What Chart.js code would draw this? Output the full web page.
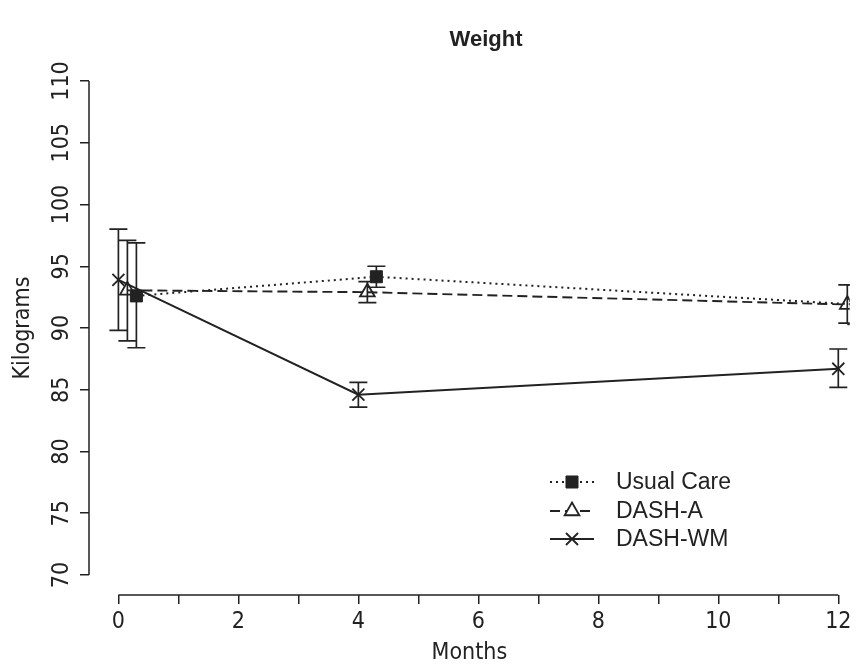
<!DOCTYPE html>
<html>
<head>
<meta charset="utf-8">
<title>Weight</title>
<script src="https://cdn.jsdelivr.net/npm/chart.js@4.4.1/dist/chart.umd.min.js"></script>
<style>
  html, body { margin: 0; padding: 0; background: #fff; }
</style>
</head>
<body>
<canvas id="chart_weight" width="860" height="669"></canvas>
<script>
// Data (kg, mean with upper/lower bar ends)
const seriesNames = ['Usual Care', 'DASH-A', 'DASH-WM'];

const ucMonths = [0.3, 4.3, 12.3];
const ucMean = [92.6, 94.15, 91.9];
const ucLow = [88.4, 93.3, 90.3];
const ucHigh = [96.9, 95.0, 93.5];

const dashAMonths = [0.15, 4.15, 12.15];
const dashAMean = [93.05, 92.9, 91.9];
const dashALow = [88.95, 92.05, 90.4];
const dashAHigh = [97.1, 93.75, 93.5];

const wmMonths = [0, 4, 12];
const wmMean = [93.9, 84.6, 86.7];
const wmLow = [89.8, 83.6, 85.2];
const wmHigh = [98.0, 85.6, 88.3];

const xTicks = [0, 1, 2, 3, 4, 5, 6, 7, 8, 9, 10, 11, 12];
const xTickLabels = ['0', '', '2', '', '4', '', '6', '', '8', '', '10', '', '12'];
const yTicks = [70, 75, 80, 85, 90, 95, 100, 105, 110];
const yTickLabels = ['70', '75', '80', '85', '90', '95', '100', '105', '110'];

const ink = '#222';
const narrow = '"Liberation Sans Narrow", "Arial Narrow", "DejaVu Sans Condensed", sans-serif';
const regular = '"Liberation Sans", Arial, sans-serif';

function points(months, values) {
    return months.map((m, i) => ({x: m, y: values[i]}));
}

const errorBars = [
    {months: ucMonths, low: ucLow, high: ucHigh},
    {months: dashAMonths, low: dashALow, high: dashAHigh},
    {months: wmMonths, low: wmLow, high: wmHigh},
];

// vertical bars with caps
const errorBarPlugin = {
    id: 'errorBars',
    afterDatasetsDraw(chart) {
        const {ctx, chartArea, scales: {x, y}} = chart;
        ctx.save();
        ctx.beginPath();
        ctx.rect(chartArea.left, chartArea.top, chartArea.width, chartArea.height);
        ctx.clip();
        ctx.strokeStyle = ink;
        ctx.lineWidth = 1.7;
        errorBars.forEach(bar => {
            bar.months.forEach((m, i) => {
                const px = x.getPixelForValue(m);
                const top = y.getPixelForValue(bar.high[i]);
                const bottom = y.getPixelForValue(bar.low[i]);
                ctx.beginPath();
                ctx.moveTo(px, top); ctx.lineTo(px, bottom);
                ctx.moveTo(px - 9, top); ctx.lineTo(px + 9, top);
                ctx.moveTo(px - 9, bottom); ctx.lineTo(px + 9, bottom);
                ctx.stroke();
            });
        });
        ctx.restore();
    }
};

// R style axis lines spanning only the tick range, title and legend
const decorPlugin = {
    id: 'decor',
    afterDraw(chart) {
        const {ctx, chartArea, scales: {x, y}} = chart;
        ctx.save();
        ctx.strokeStyle = ink;
        ctx.lineWidth = 1.5;
        ctx.beginPath();
        ctx.moveTo(x.getPixelForValue(xTicks[0]), chartArea.bottom);
        ctx.lineTo(x.getPixelForValue(xTicks[xTicks.length - 1]), chartArea.bottom);
        ctx.moveTo(chartArea.left, y.getPixelForValue(yTicks[0]));
        ctx.lineTo(chartArea.left, y.getPixelForValue(yTicks[yTicks.length - 1]));
        ctx.stroke();

        ctx.fillStyle = ink;
        ctx.font = 'bold 22px ' + regular;
        ctx.textAlign = 'center';
        ctx.textBaseline = 'middle';
        ctx.fillText('Weight', 486, 40);

        // legend
        const rows = [482, 511, 539];
        ctx.font = '23px ' + regular;
        ctx.textAlign = 'left';
        chart.data.datasets.forEach((ds, i) => {
            const ly = rows[i];
            ctx.strokeStyle = ink;
            ctx.lineWidth = ds.borderWidth;
            ctx.setLineDash(ds.borderDash || []);
            ctx.beginPath();
            ctx.moveTo(550, ly); ctx.lineTo(594, ly);
            ctx.stroke();
            ctx.setLineDash([]);
            ctx.fillStyle = ds.pointStyle === 'triangle' ? '#fff' : ink;
            ctx.lineWidth = ds.pointBorderWidth;
            Chart.helpers.drawPoint(ctx, {
                pointStyle: ds.pointStyle, radius: ds.pointRadius, rotation: 0,
                borderWidth: ds.pointBorderWidth
            }, 572, ly);
            ctx.fillStyle = ink;
            ctx.fillText(ds.label, 616, ly + 1);
        });
        ctx.restore();
    }
};

let chartWeight = new Chart(
    document.getElementById('chart_weight'),
    {
        type: 'scatter',
        data: {
            datasets: [
                {
                    label: seriesNames[0],
                    data: points(ucMonths, ucMean),
                    showLine: true,
                    borderColor: ink,
                    borderWidth: 2,
                    borderDash: [2, 4],
                    pointStyle: 'rect',
                    pointRadius: 8.5,
                    pointBorderWidth: 1,
                    pointBackgroundColor: ink,
                    pointBorderColor: ink,
                },
                {
                    label: seriesNames[1],
                    data: points(dashAMonths, dashAMean),
                    showLine: true,
                    borderColor: ink,
                    borderWidth: 1.9,
                    borderDash: [10, 5],
                    pointStyle: 'triangle',
                    pointRadius: 8.5,
                    pointBorderWidth: 1.8,
                    pointBackgroundColor: 'rgba(0,0,0,0)',
                    pointBorderColor: ink,
                },
                {
                    label: seriesNames[2],
                    data: points(wmMonths, wmMean),
                    showLine: true,
                    borderColor: ink,
                    borderWidth: 2,
                    pointStyle: 'crossRot',
                    pointRadius: 8.5,
                    pointBorderWidth: 1.8,
                    pointBorderColor: ink,
                },
            ]
        },
        options: {
            responsive: false,
            animation: false,
            layout: {padding: {top: 61, left: 0, right: 0, bottom: 0}},
            scales: {
                x: {
                    type: 'linear',
                    min: -0.49,
                    max: 12.19,
                    afterBuildTicks: s => { s.ticks = xTicks.map(v => ({value: v})); },
                    afterFit: s => { s.height = 74; s.paddingLeft = 0; s.paddingRight = 0; },
                    grid: {display: true, drawOnChartArea: false, drawTicks: true, tickLength: 9, color: ink, lineWidth: 1.5},
                    border: {display: false},
                    ticks: {
                        autoSkip: false,
                        maxRotation: 0,
                        padding: 4,
                        color: ink,
                        font: {family: narrow, size: 23},
                        callback: (v, i) => xTickLabels[i],
                    },
                    title: {
                        display: true,
                        text: 'Months',
                        color: ink,
                        font: {family: narrow, size: 23},
                        padding: {top: 0, bottom: 2},
                    },
                },
                y: {
                    type: 'linear',
                    min: 68.38,
                    max: 111.62,
                    afterBuildTicks: s => { s.ticks = yTicks.map(v => ({value: v})); },
                    afterFit: s => { s.width = 89; s.paddingTop = 0; s.paddingBottom = 0; },
                    grid: {display: true, drawOnChartArea: false, drawTicks: true, tickLength: 9, color: ink, lineWidth: 1.5},
                    border: {display: false},
                    ticks: {
                        autoSkip: false,
                        minRotation: 90,
                        maxRotation: 90,
                        crossAlign: 'center',
                        padding: -2,
                        color: ink,
                        font: {family: narrow, size: 23},
                        callback: (v, i) => yTickLabels[i],
                    },
                    title: {
                        display: true,
                        text: 'Kilograms',
                        color: ink,
                        font: {family: narrow, size: 23},
                        padding: {top: 9, bottom: 0},
                    },
                },
            },
            plugins: {
                legend: {display: false},
                tooltip: {enabled: false},
            },
        },
        plugins: [errorBarPlugin, decorPlugin],
    }
);
</script>
</body>
</html>
